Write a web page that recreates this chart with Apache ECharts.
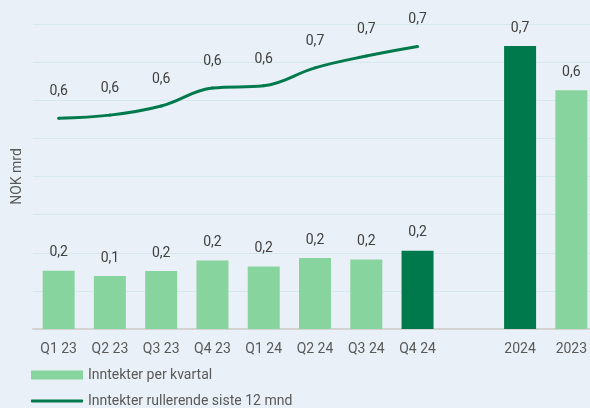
<!DOCTYPE html>
<html>
<head>
<meta charset="utf-8">
<script src="https://cdn.jsdelivr.net/npm/echarts@6/dist/echarts.min.js"></script>
<style>
  html, body { margin: 0; padding: 0; background: #e9f0f7; }
  #chart { width: 590px; height: 408px; }
</style>
</head>
<body>
<div id="chart"></div>
<script>
// categories (blank one makes the gap before the yearly bars)
const categories = ['Q1 23', 'Q2 23', 'Q3 23', 'Q4 23', 'Q1 24', 'Q2 24', 'Q3 24', 'Q4 24', '', '2024', '2023'];
// revenue per quarter / per year, NOK mrd
const barValues = [0.153, 0.139, 0.152, 0.18, 0.164, 0.186, 0.182, 0.205, null, 0.742, 0.626];
// which bars are highlighted in dark green
const darkBars = ['Q4 24', '2024'];
// rolling 12 months revenue
const rollingValues = [0.553, 0.561, 0.585, 0.632, 0.638, 0.685, 0.716, 0.741];

const LIGHT = '#88d49e';
const DARK = '#007a4c';

const fmt = v => v.toFixed(1).replace('.', ',');

const chart = echarts.init(document.getElementById('chart'));

const option = {
    backgroundColor: '#e9f0f7',
    textStyle: { fontFamily: 'Roboto' },
    animation: false,
    // plot runs a bit past the right edge in the original
    grid: { left: 33, width: 564, top: 24, bottom: 79, outerBoundsMode: 'none' },
    // two legends so they stack like the original
    legend: [
        {
            left: 31,
            top: 368,
            padding: 0,
            itemWidth: 52,
            itemHeight: 9,
            textStyle: { color: '#595959', fontSize: 14 },
            data: [{ name: 'Inntekter per kvartal', icon: 'rect', itemStyle: { color: LIGHT } }]
        },
        {
            left: 31,
            top: 394,
            padding: 0,
            itemWidth: 52,
            itemHeight: 3,
            textStyle: { color: '#595959', fontSize: 14 },
            data: [{ name: 'Inntekter rullerende siste 12 mnd', icon: 'roundRect', itemStyle: { color: DARK } }]
        }
    ],
    xAxis: {
        type: 'category',
        data: categories,
        axisLine: { lineStyle: { color: '#d3d3d3', width: 2 } },
        axisTick: { show: false },
        axisLabel: { color: '#595959', fontSize: 14, margin: 13 }
    },
    yAxis: {
        type: 'value',
        min: 0,
        max: 0.8,
        interval: 0.1,
        name: 'NOK mrd',
        nameLocation: 'middle',
        nameGap: 9,
        nameTextStyle: { color: '#595959', fontSize: 14 },
        axisLabel: { show: false },
        axisLine: { show: false },
        axisTick: { show: false },
        splitLine: { lineStyle: { color: '#d6e8ee', width: 1 } }
    },
    series: [
        {
            name: 'Inntekter per kvartal',
            type: 'bar',
            barWidth: 32,
            data: barValues.map((v, i) => v === null ? '-' : {
                value: v,
                itemStyle: { color: darkBars.includes(categories[i]) ? DARK : LIGHT }
            }),
            label: {
                show: true,
                position: 'top',
                distance: 11,
                color: '#404040',
                fontSize: 14,
                formatter: p => fmt(p.value)
            }
        },
        {
            name: 'Inntekter rullerende siste 12 mnd',
            type: 'line',
            smooth: 0.4,
            symbol: 'circle',
            symbolSize: 3,
            showSymbol: true,
            data: rollingValues,
            lineStyle: { color: DARK, width: 3 },
            itemStyle: { color: DARK },
            label: {
                show: true,
                position: 'top',
                distance: 18,
                color: '#404040',
                fontSize: 14,
                formatter: p => fmt(p.value)
            }
        }
    ]
};

chart.setOption(option);
</script>
</body>
</html>
